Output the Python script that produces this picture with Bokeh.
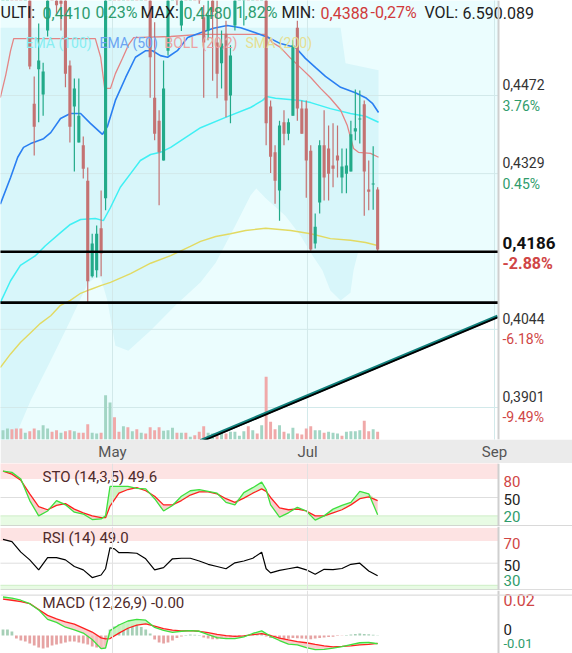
import numpy as np
from bokeh.plotting import figure
from bokeh.models import Range1d, FixedTicker, Span
from bokeh.layouts import column
from bokeh.core.properties import value
from bokeh.embed import file_html
from bokeh.resources import INLINE

FONT = value("Roboto")

# ---------------- data ----------------
month_ticks = [24.55, 68.27, 110.2]
month_labels = ["May", "Jul", "Sep"]

opens = [0.4700, 0.4760, 0.4820, 0.4770, 0.4720, 0.4680, 0.4740, 0.4457, 0.4520, 0.4474,
         0.4591, 0.4720, 0.4700, 0.4660, 0.4650, 0.4527, 0.4452, 0.4386, 0.4381, 0.4316,
         0.4141, 0.4152, 0.4229, 0.4284, 0.4720, 0.4770, 0.4720, 0.4690, 0.4740, 0.4700,
         0.4750, 0.4710, 0.4740, 0.4690, 0.4468, 0.4426, 0.4353, 0.4554, 0.4700, 0.4760,
         0.4600, 0.4720, 0.4690, 0.4700, 0.4670, 0.4615, 0.4591, 0.4680, 0.4569, 0.4531,
         0.4585, 0.4472, 0.4600, 0.4700, 0.4700, 0.4760, 0.4700, 0.4740, 0.4710, 0.4760,
         0.4452, 0.4368, 0.4298, 0.4423, 0.4402, 0.4435, 0.4596, 0.4448, 0.4448, 0.4371,
         0.4201, 0.4276, 0.4381, 0.4375, 0.4344, 0.4362, 0.4322, 0.4329, 0.4333, 0.4406,
         0.4428, 0.4456, 0.4300, 0.4309, 0.4300]
highs = [0.4790, 0.4850, 0.4840, 0.4790, 0.4760, 0.4760, 0.4760, 0.4507, 0.4604, 0.4532,
         0.4720, 0.4750, 0.4720, 0.4680, 0.4670, 0.4536, 0.4503, 0.4503, 0.4397, 0.4340,
         0.4219, 0.4234, 0.4298, 0.4740, 0.4800, 0.4790, 0.4740, 0.4760, 0.4750, 0.4780,
         0.4760, 0.4770, 0.4750, 0.4710, 0.4606, 0.4445, 0.4536, 0.4720, 0.4780, 0.4770,
         0.4740, 0.4730, 0.4720, 0.4710, 0.4690, 0.4637, 0.4646, 0.4690, 0.4646, 0.4591,
         0.4609, 0.4564, 0.4720, 0.4760, 0.4780, 0.4770, 0.4760, 0.4750, 0.4780, 0.4780,
         0.4463, 0.4381, 0.4426, 0.4445, 0.4430, 0.4573, 0.4609, 0.4463, 0.4463, 0.4381,
         0.4256, 0.4390, 0.4445, 0.4417, 0.4421, 0.4417, 0.4375, 0.4375, 0.4426, 0.4483,
         0.4481, 0.4463, 0.4353, 0.4379, 0.4304]
lows = [0.4680, 0.4740, 0.4750, 0.4700, 0.4660, 0.4670, 0.4520, 0.4362, 0.4423, 0.4435,
        0.4580, 0.4660, 0.4620, 0.4591, 0.4487, 0.4386, 0.4333, 0.4386, 0.4320, 0.4093,
        0.4139, 0.4139, 0.4141, 0.4262, 0.4690, 0.4700, 0.4670, 0.4680, 0.4680, 0.4690,
        0.4690, 0.4700, 0.4670, 0.4468, 0.4390, 0.4271, 0.4353, 0.4545, 0.4690, 0.4637,
        0.4590, 0.4660, 0.4670, 0.4650, 0.4640, 0.4468, 0.4573, 0.4499, 0.4467, 0.4485,
        0.4432, 0.4421, 0.4591, 0.4680, 0.4600, 0.4680, 0.4690, 0.4690, 0.4700, 0.4381,
        0.4330, 0.4274, 0.4243, 0.4381, 0.4390, 0.4435, 0.4426, 0.4402, 0.4285, 0.4188,
        0.4192, 0.4256, 0.4280, 0.4280, 0.4304, 0.4322, 0.4293, 0.4293, 0.4333, 0.4390,
        0.4384, 0.4252, 0.4262, 0.4263, 0.4188]
closes = [0.4760, 0.4820, 0.4770, 0.4720, 0.4680, 0.4740, 0.4525, 0.4415, 0.4536, 0.4516,
          0.4700, 0.4680, 0.4637, 0.4640, 0.4512, 0.4415, 0.4485, 0.4435, 0.4338, 0.4132,
          0.4201, 0.4219, 0.4183, 0.4720, 0.4770, 0.4720, 0.4690, 0.4740, 0.4700, 0.4750,
          0.4710, 0.4740, 0.4690, 0.4542, 0.4402, 0.4368, 0.4485, 0.4700, 0.4760, 0.4680,
          0.4720, 0.4690, 0.4700, 0.4670, 0.4650, 0.4569, 0.4618, 0.4625, 0.4512, 0.4567,
          0.4463, 0.4545, 0.4700, 0.4740, 0.4760, 0.4700, 0.4740, 0.4710, 0.4760, 0.4421,
          0.4360, 0.4316, 0.4417, 0.4402, 0.4423, 0.4564, 0.4448, 0.4402, 0.4353, 0.4190,
          0.4232, 0.4381, 0.4322, 0.4329, 0.4338, 0.4353, 0.4342, 0.4344, 0.4401, 0.4412,
          0.4430, 0.4333, 0.4296, 0.4311, 0.4190]
volumes = [8.0, 9.5, 8.9, 9.5, 9.5, 5.7, 7.2, 9.5, 8.0, 12.3,
           9.5, 6.6, 8.0, 5.7, 7.2, 8.0, 7.2, 5.7, 5.7, 13.2,
           5.7, 5.2, 5.7, 38.1, 31.8, 19.2, 6.6, 11.5, 10.6, 7.2,
           8.9, 5.7, 5.2, 10.6, 8.0, 10.6, 7.5, 8.0, 10.0, 5.7,
           5.7, 5.7, 2.3, 3.7, 6.6, 11.5, 5.7, 5.2, 3.7, 6.6,
           5.2, 6.6, 6.6, 3.2, 7.2, 11.5, 8.0, 5.2, 12.3, 53.9,
           15.2, 8.9, 12.3, 6.6, 5.2, 10.0, 5.2, 4.3, 9.5, 11.5,
           8.0, 8.0, 5.7, 6.6, 5.7, 5.2, 3.2, 6.6, 7.2, 7.2,
           8.0, 16.1, 7.2, 8.9, 6.6]
vol_up = [1, 1, 0, 0, 0, 1, 0, 0, 1, 1, 1, 0, 0, 1, 0, 0, 1, 0, 0, 0,
          1, 1, 0, 1, 1, 0, 0, 1, 0, 1, 0, 1, 0, 0, 0, 0, 1, 1, 1, 0,
          1, 0, 1, 0, 0, 0, 1, 1, 0, 1, 0, 1, 1, 1, 1, 0, 1, 0, 1, 0,
          0, 0, 1, 0, 1, 1, 0, 0, 0, 0, 1, 1, 0, 1, 1, 1, 0, 1, 1, 1,
          1, 0, 0, 1, 0]

ema50_x = [-0.6, 1.7, 3.3, 4.6, 6.2, 9.1, 10.7, 12.9, 15.1, 17.4, 19.6, 22.3, 23.4, 25.2, 27.5,
           29.7, 32.0, 33.5, 35.3, 36.9, 39.1, 41.4, 44.3, 47.2, 50.3, 53.3, 56.6, 59.5, 62.2,
           65.6, 67.8, 70.1, 72.3, 75.7, 79.0, 81.3, 82.9, 84.2]
ema50 = [0.4273, 0.4322, 0.4359, 0.4377, 0.4384, 0.4393, 0.4404, 0.4430, 0.4439, 0.4439,
         0.4421, 0.4401, 0.4415, 0.4463, 0.4505, 0.4542, 0.4554, 0.4554, 0.4545, 0.4542,
         0.4554, 0.4578, 0.4587, 0.4595, 0.4600, 0.4596, 0.4587, 0.4578, 0.4567, 0.4560,
         0.4540, 0.4523, 0.4507, 0.4487, 0.4477, 0.4468, 0.4457, 0.4441]
ema100_x = [-0.6, 1.7, 3.9, 7.3, 9.5, 12.9, 15.1, 17.4, 20.7, 22.5, 24.1, 26.3, 28.6, 30.8, 33.1,
            35.3, 37.6, 40.9, 44.3, 49.9, 55.5, 58.2, 59.1, 61.1, 66.7, 69.0, 73.4, 77.9, 81.3, 84.2]
ema100 = [0.4093, 0.4133, 0.4161, 0.4179, 0.4197, 0.4221, 0.4236, 0.4245, 0.4247, 0.4243,
          0.4267, 0.4304, 0.4329, 0.4353, 0.4364, 0.4368, 0.4377, 0.4395, 0.4413, 0.4432,
          0.4450, 0.4463, 0.4470, 0.4467, 0.4463, 0.4459, 0.4448, 0.4439, 0.4434, 0.4423]
boll_x = [-0.6, 0.6, 1.7, 2.4, 10.7, 20.7, 21.9, 22.8, 24.1, 25.2, 26.8, 28.1, 29.3, 37.6, 44.3,
          58.9, 60.4, 62.2, 64.5, 66.7, 69.0, 71.2, 73.4, 75.7, 77.2, 78.6, 79.7, 82.4, 84.2]
boll = [0.4468, 0.4509, 0.4554, 0.4576, 0.4576, 0.4576, 0.4542, 0.4485, 0.4485, 0.4512,
        0.4540, 0.4564, 0.4578, 0.4580, 0.4584, 0.4584, 0.4569, 0.4560, 0.4540, 0.4523,
        0.4505, 0.4485, 0.4467, 0.4445, 0.4417, 0.4375, 0.4368, 0.4366, 0.4359]
sma200_x = [-0.6, 1.7, 3.9, 6.2, 8.4, 10.7, 12.9, 15.1, 17.4, 19.6, 21.9, 24.1, 28.6, 33.1,
            37.6, 42.0, 44.3, 47.7, 51.0, 54.4, 58.9, 64.5, 69.0, 73.4, 77.9, 81.3, 84.2]
sma200 = [0.3974, 0.3999, 0.4020, 0.4038, 0.4055, 0.4069, 0.4088, 0.4097, 0.4110, 0.4117,
          0.4124, 0.4130, 0.4146, 0.4165, 0.4179, 0.4196, 0.4205, 0.4214, 0.4219, 0.4225,
          0.4229, 0.4225, 0.4219, 0.4210, 0.4207, 0.4203, 0.4197]
band_up_x = [-0.6, 75.7, 76.8, 84.2]
band_up = [0.4596, 0.4596, 0.4531, 0.4518]
band_lo_x = [-0.6, 2.4, 6.2, 10.7, 15.1, 19.0, 20.7, 21.9, 23.4, 25.2, 28.1, 33.1, 38.7, 44.3,
             47.7, 52.1, 55.5, 56.8, 58.9, 63.3, 66.7, 69.4, 71.6, 73.4, 75.7, 77.9, 78.6, 79.7, 84.2]
band_lo = [0.3841, 0.3841, 0.3914, 0.3987, 0.4060, 0.4128, 0.4139, 0.4139, 0.4097, 0.4014,
           0.4005, 0.4042, 0.4088, 0.4130, 0.4166, 0.4234, 0.4289, 0.4302, 0.4284, 0.4252,
           0.4216, 0.4179, 0.4152, 0.4115, 0.4097, 0.4111, 0.4152, 0.4188, 0.4188]

support_levels = [0.4186, 0.4093]
trend_x = [44.28, 110.9]
trend_y = [0.3840, 0.4068]

price_ticks = [0.4472, 0.4329, 0.4186, 0.4044, 0.3901]
price_labels = ["0,4472", "0,4329", "0,4186", "0,4044", "0,3901"]
pct_labels = ["3.76%", "0.45%", "-2.88%", "-6.18%", "-9.49%"]
current_price = 0.4186

header_texts = ["ULTI:", "0,4410", "0,23%", "MAX:", "0,4480", "1,82%", "MIN:", "0,4388",
                "-0,27%", "VOL:", "6.590.089"]
header_kind = ["k", "g", "g", "k", "g", "g", "k", "r", "r", "k", "k"]
legend_texts = ["EMA (100)", "EMA (50)", "BOLL (20,2)", "SMA (200)"]

sto_x = [0, 2, 4, 6, 8, 10, 12, 14, 16, 18, 20, 22, 23, 24, 26, 28, 30, 32, 34, 36, 38, 40, 42,
         44, 46, 48, 50, 52, 54, 56, 58, 59, 60, 62, 64, 66, 68, 70, 72, 74, 76, 78, 80, 82, 84]
sto_k = [93, 91, 80, 45, 20, 28, 45, 38, 26, 23, 14, 15, 20, 68, 68, 68, 65, 64, 48, 28, 37, 52,
         61, 63, 60, 57, 42, 38, 58, 66, 75, 63, 38, 18, 25, 34, 28, 13, 20, 31, 37, 42, 60, 56, 22]
sto_d = [93, 88, 78, 56, 35, 30, 37, 40, 31, 25, 20, 17, 17, 36, 57, 63, 66, 61, 52, 38, 38, 45,
         54, 59, 59, 56, 48, 42, 49, 57, 64, 60, 50, 33, 30, 31, 28, 20, 20, 25, 30, 38, 48, 51, 45]
sto_levels = [80, 50, 20]
rsi_x = [0, 2, 4, 6, 8, 10, 12, 14, 16, 18, 20, 22, 23, 24, 25, 26, 28, 30, 32, 34, 36, 38, 40,
         42, 44, 46, 48, 50, 52, 54, 56, 58, 59, 60, 62, 64, 66, 68, 70, 72, 74, 76, 78, 80, 82, 84]
rsi = [71.5, 69.5, 60, 53, 44, 55, 55, 53, 47, 44, 37, 39.3, 45, 64, 63, 59.5, 59.5, 59, 54, 44,
       46, 54, 54.5, 54.5, 52, 49, 47, 45, 50.3, 52, 54.5, 60, 45, 41.2, 43.5, 45, 46.5, 44, 40,
       44.5, 44.2, 45.2, 49, 50, 43, 38.6]
rsi_levels = [70, 50, 30]
macd_x = [0, 2, 4, 6, 8, 10, 12, 14, 16, 18, 20, 22, 23, 24, 26, 28, 30, 32, 34, 36, 38, 40, 42,
          44, 46, 48, 50, 52, 54, 56, 58, 60, 62, 64, 66, 68, 70, 72, 74, 76, 78, 80, 82, 84]
macd = [0.0191, 0.0186, 0.0175, 0.0158, 0.0127, 0.0080, 0.0065, 0.0041, 0.0028, 0.0012, -0.0020,
        -0.0065, -0.0062, 0.0024, 0.0052, 0.0072, 0.0080, 0.0076, 0.0040, 0.0025, 0.0016, 0.0021,
        0.0024, 0.0021, 0.0004, -0.0011, -0.0016, -0.0016, -0.0007, 0.0010, 0.0023, -0.0004,
        -0.0025, -0.0043, -0.0047, -0.0060, -0.0070, -0.0069, -0.0063, -0.0055, -0.0045, -0.0036,
        -0.0034, -0.0041]
signal = [0.0181, 0.0175, 0.0168, 0.0158, 0.0129, 0.0100, 0.0083, 0.0068, 0.0056, 0.0037, 0.0017,
          -0.0012, -0.0017, -0.0015, 0.0012, 0.0036, 0.0052, 0.0058, 0.0047, 0.0034, 0.0027, 0.0023,
          0.0024, 0.0021, 0.0014, 0.0006, -0.0001, -0.0004, -0.0002, 0.0004, 0.0009, 0.0000,
          -0.0013, -0.0022, -0.0030, -0.0036, -0.0044, -0.0051, -0.0056, -0.0054, -0.0051, -0.0047,
          -0.0044, -0.0039]
hist = [0.0030, 0.0030, 0.0020, -0.0015, -0.0025, -0.0030, -0.0040, -0.0050, -0.0060, -0.0065,
        -0.0060, -0.0050, -0.0045, -0.0040, -0.0035, -0.0030, -0.0030, -0.0035, -0.0040, -0.0045,
        -0.0055, -0.0060, -0.0065, -0.0050, 0.0030, 0.0045, 0.0055, 0.0060, 0.0060, 0.0058,
        0.0052, 0.0042, 0.0030, 0.0010, -0.0020, -0.0035, -0.0040, -0.0035, -0.0025, -0.0012,
        -0.0005, 0.0003, 0.0005, 0.0004, 0.0002, -0.0010, -0.0015, -0.0018, -0.0018, -0.0015,
        -0.0012, -0.0010, -0.0008, -0.0005, -0.0002, 0.0003, 0.0005, 0.0008, 0.0012, -0.0005,
        -0.0012, -0.0015, -0.0018, -0.0018, -0.0016, -0.0012, -0.0014, -0.0015, -0.0016, -0.0018,
        -0.0015, -0.0012, -0.0010, -0.0008, -0.0006, -0.0003, -0.0001, 0.0002, 0.0005, 0.0008,
        0.0010, 0.0008, 0.0006, 0.0004, 0.0001]
macd_levels = [0.02, 0, -0.01]
macd_level_labels = ["0.02", "0", "-0.01"]

# ---------------- layout helpers (reference pixel -> data units) ----------------
def X(px):
    return (px - 2.5) / 4.46

def PY(py):
    return 0.4472 - (py - 95) / 5464.0

def STO(py):
    return 80 - (py - 478.6) / 0.613

def RSI(py):
    return 50 - (py - 562.7) / 1.105

def MACDV(py):
    return (635 - py) / 2015.0

W = 572
GREEN = "#22aa89"
RED = "#c47272"
LBL_RED = "#d04545"
LBL_GREEN = "#2f9c6c"
LBL_BLACK = "#222222"
LVL_COLORS = [LBL_RED, LBL_BLACK, LBL_GREEN]
TITLE = "#4f2a2a"

xr = Range1d(X(0), X(572))
BORDER = X(498)
LEFT = X(-20)

# ---------------- main price chart ----------------
p = figure(width=W, height=463, x_range=xr, y_range=Range1d(PY(439), PY(0)),
           output_backend="svg", toolbar_location=None, y_axis_location=None,
           min_border_left=0, min_border_right=0, min_border_top=0, min_border_bottom=24,
           background_fill_color="white", border_fill_color="#ebebeb", outline_line_color=None)
p.grid.visible = False
p.extra_y_ranges = {"vol": Range1d(0, 439 * 0.86)}
ax = p.xaxis[0]
ax.ticker = FixedTicker(ticks=month_ticks)
ax.major_label_overrides = {t: l for t, l in zip(month_ticks, month_labels)}
ax.axis_line_color = None
ax.major_tick_line_color = None
ax.minor_tick_line_color = None
ax.major_tick_out = 0
ax.major_tick_in = 0
ax.minor_tick_out = 0
ax.minor_tick_in = 0
ax.major_label_text_font = "Roboto"
ax.major_label_text_font_size = "15px"
ax.major_label_text_color = "#555555"
ax.major_label_standoff = 3

# plot background (above trend line) and bollinger band area
p.patch([LEFT, BORDER, trend_x[1], trend_x[0], LEFT],
        [PY(-20), PY(-20), trend_y[1], trend_y[0], trend_y[0]],
        fill_color="#ebfdfe", line_color=None)
p.patch(band_up_x + band_lo_x[::-1], band_up + band_lo[::-1],
        fill_color="#d8f6fa", line_color=None)

# grid
p.segment(x0=[LEFT] * len(price_ticks), y0=price_ticks, x1=[BORDER] * len(price_ticks),
          y1=price_ticks, line_color="#d2e9ea", line_width=1)
p.segment(x0=month_ticks, y0=[PY(450)] * 3, x1=month_ticks, y1=[PY(-20)] * 3,
          line_color="#d2e9ea", line_width=1)

# volume
k = np.arange(len(opens))
vcol = ["#a2d5c4" if u else "#f0a9a9" for u in vol_up]
p.vbar(x=k, width=0.66, top=volumes, bottom=0, y_range_name="vol",
       fill_color=vcol, line_color=None)

# indicator lines
p.line(sma200_x, sma200, line_color="#e2da62", line_width=1.4)
p.line(ema100_x, ema100, line_color="#3ff0f4", line_width=1.5)
p.line(boll_x, boll, line_color="#e48585", line_width=1.3)
p.line(ema50_x, ema50, line_color="#2a7ff2", line_width=1.6)

# candles
o = np.array(opens); h = np.array(highs); l = np.array(lows); c = np.array(closes)
up = c >= o
ccol = np.where(up, GREEN, RED)
top = np.maximum(o, c)
bot = np.minimum(o, c)
mid = (top + bot) / 2
tiny = (top - bot) < 0.0002
top = np.where(tiny, mid + 0.0001, top)
bot = np.where(tiny, mid - 0.0001, bot)
p.segment(x0=k, y0=h, x1=k, y1=l, line_color=ccol, line_width=1.2)
p.vbar(x=k, width=0.7, top=top, bottom=bot, fill_color=ccol, line_color=None)

# drawn support lines and trend line
p.segment(x0=[LEFT] * 2, y0=support_levels, x1=[BORDER] * 2, y1=support_levels,
          line_color="black", line_width=2.6)
p.line(trend_x, trend_y, line_color="#0f7f7b", line_width=3.4)
p.line(trend_x, [y - 0.0002 for y in trend_y], line_color="black", line_width=1.8)

p.add_layout(Span(location=BORDER, dimension="height", line_color="#cfcfcf", line_width=2))

# right price labels
for tk, lab, pct in zip(price_ticks, price_labels, pct_labels):
    cur = abs(tk - current_price) < 1e-9
    pc = LBL_RED if pct.startswith("-") else LBL_GREEN
    p.text(x=[X(502)], y=[tk], text=[lab], text_font=FONT,
           text_font_size="17px" if cur else "14px",
           text_font_style="bold" if cur else "normal",
           text_color="#111111" if cur else "#333333",
           text_baseline="middle", y_offset=-9 if cur else -11)
    p.text(x=[X(502)], y=[tk], text=[pct], text_font=FONT,
           text_font_size="16px" if cur else "14px",
           text_font_style="bold" if cur else "normal",
           text_color=pc, text_baseline="middle", y_offset=12 if cur else 10)

# header
hx = [0, 42, 95, 140, 183, 235, 281, 320, 370, 424, 462]
hcol = {"k": "#222222", "g": "#2e9c6e", "r": "#d03a3a"}
p.text(x=[X(v) for v in hx], y=[PY(12)] * len(hx), text=header_texts,
       text_color=[hcol[t] for t in header_kind], text_font=FONT, text_font_size="16px",
       text_baseline="middle")

# legend
lx = [25, 99, 164, 245]
p.text(x=[X(v) for v in lx], y=[PY(42)] * 4, text=legend_texts,
       text_color=["#86eef2", "#6ba4f2", "#eda2a2", "#e6df92"], text_font=FONT,
       text_font_size="14px", text_baseline="middle")


# ---------------- indicator panels ----------------
def panel(h, y0, y1):
    f = figure(width=W, height=h, x_range=xr, y_range=Range1d(y0, y1),
               output_backend="svg", toolbar_location=None,
               x_axis_location=None, y_axis_location=None, min_border=0,
               background_fill_color="white", border_fill_color="white",
               outline_line_color=None)
    f.grid.visible = False
    for t in month_ticks[:2]:
        f.add_layout(Span(location=t, dimension="height", line_color="#e2e2e2", line_width=1))
    f.add_layout(Span(location=BORDER, dimension="height", line_color="#cfcfcf", line_width=2))
    return f


def level_label(f, lvl, lab, color, off, size="15px"):
    f.text(x=[X(503)], y=[lvl], text=[lab], text_color=color, text_font=FONT,
           text_font_size=size, text_baseline="middle", y_offset=off)


# STO
s = panel(63, STO(526), STO(463))
s.quad(left=LEFT, right=BORDER, bottom=sto_levels[0], top=STO(462), fill_color="#fde3e3", line_color=None)
s.quad(left=LEFT, right=BORDER, bottom=STO(525.6), top=sto_levels[2], fill_color="#e8fbe4",
       line_color="#cdeec6", line_width=1)
s.segment(x0=[LEFT], y0=[sto_levels[1]], x1=[BORDER], y1=[sto_levels[1]], line_color="#dedede")
s.add_layout(Span(location=STO(525.6), dimension="width", line_color="#cccccc", line_width=1.5))
kk = np.array(sto_k, dtype=float); dd = np.array(sto_d, dtype=float)
s.varea(x=sto_x, y1=kk, y2=np.maximum(kk, dd), fill_color="#f7c4c4", fill_alpha=0.8)
s.varea(x=sto_x, y1=dd, y2=np.maximum(kk, dd), fill_color="#c9f4c0", fill_alpha=0.9)
s.line(sto_x, sto_d, line_color="#ff2020", line_width=1.3)
s.line(sto_x, sto_k, line_color="#3ee03e", line_width=1.3)
s.text(x=[X(42)], y=[STO(476)], text=["STO (14,3,5) 49.6"], text_color=TITLE, text_font=FONT,
       text_font_size="15px", text_baseline="middle")
for lvl, col, off in zip(sto_levels, LVL_COLORS, [2, 2.5, 1]):
    level_label(s, lvl, str(lvl), col, off)

# RSI
r = panel(64, RSI(590), RSI(526))
r.quad(left=LEFT, right=BORDER, bottom=rsi_levels[0], top=RSI(527.4), fill_color="#fde3e3", line_color=None)
r.quad(left=LEFT, right=BORDER, bottom=RSI(589.6), top=rsi_levels[2], fill_color="#e8fbe4",
       line_color="#cdeec6", line_width=1)
r.segment(x0=[LEFT], y0=[rsi_levels[1]], x1=[BORDER], y1=[rsi_levels[1]], line_color="#dedede")
r.add_layout(Span(location=RSI(589.6), dimension="width", line_color="#d2d2d2", line_width=1.5))
r.line(rsi_x, rsi, line_color="black", line_width=1.2)
r.text(x=[X(42)], y=[RSI(537.5)], text=["RSI (14) 49.0"], text_color=TITLE, text_font=FONT,
       text_font_size="15px", text_baseline="middle")
for lvl, col, off in zip(rsi_levels, LVL_COLORS, [2, 2, -5]):
    level_label(r, lvl, str(lvl), col, off)

# MACD
m = panel(63, MACDV(653), MACDV(590))
m.add_layout(Span(location=macd_levels[0], dimension="width", line_color="#dddddd", line_width=1.2))
hcolors = ["#a6cfb6" if v >= 0 else "#e6a3a3" for v in hist]
m.vbar(x=k, width=0.62, top=hist, bottom=0, fill_color=hcolors, line_color=None)
mm = np.array(macd); ss = np.array(signal)
m.varea(x=macd_x, y1=mm, y2=np.maximum(mm, ss), fill_color="#f7c4c4", fill_alpha=0.8)
m.varea(x=macd_x, y1=ss, y2=np.maximum(mm, ss), fill_color="#c9f4c0", fill_alpha=0.9)
m.line(macd_x, signal, line_color="#ff2020", line_width=1.3)
m.line(macd_x, macd, line_color="#3ee03e", line_width=1.3)
m.text(x=[X(42)], y=[MACDV(602)], text=["MACD (12,26,9) -0.00"], text_color=TITLE, text_font=FONT,
       text_font_size="15px", text_baseline="middle")
for lvl, lab, col, off, size in zip(macd_levels, macd_level_labels, LVL_COLORS,
                                    [5, -6, -12], ["16px", "15px", "13px"]):
    level_label(m, lvl, lab, col, off, size)

layout = column(p, s, r, m, spacing=0)
open("out.html", "w").write(file_html(layout, INLINE))
